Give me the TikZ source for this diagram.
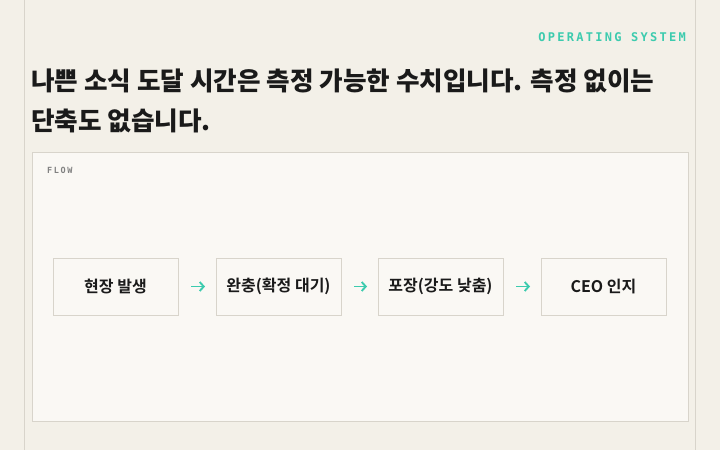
\documentclass[tikz,border=0pt]{standalone}
\usepackage{fontspec}
\usetikzlibrary{positioning,arrows.meta}
\newfontfamily\cjk{Noto Sans CJK KR}[BoldFont={Noto Sans CJK KR Bold}]
\newfontfamily\cjkheavy{Noto Sans CJK KR Black}
\newfontfamily\monofnt{DejaVu Sans Mono}[LetterSpace=19]
\definecolor{pagebg}{HTML}{F3F0E8}
\definecolor{panelbg}{HTML}{FAF8F4}
\definecolor{rulegray}{HTML}{D8D4CB}
\definecolor{tealc}{HTML}{3CCBAE}
\definecolor{inkc}{HTML}{1A1A1A}
\tikzset{
  stagebox/.style={draw=rulegray, line width=0.8pt, fill=panelbg, minimum width=125pt, minimum height=57pt, inner sep=0pt, outer sep=0pt, font=\cjk\bfseries\fontsize{16}{19}\selectfont, text=inkc},
  flowarrow/.style={draw=tealc, line width=1.9pt, -{Straight Barb[length=4pt,width=9pt]}, shorten <=13pt, shorten >=11pt}
}
\begin{document}
\begin{tikzpicture}[x=1pt, y=-1pt]
  % 背景
  \fill [pagebg] (0,0) rectangle (720,450);
  \useasboundingbox (0,0) rectangle (720,450);
  \draw [rulegray, line width=0.8pt] (24,0) -- (24,450);
  \draw [rulegray, line width=0.8pt] (695,0) -- (695,450);

  % 見出し
  \node [anchor=east, text=tealc, font=\monofnt\bfseries\fontsize{12}{14}\selectfont, inner sep=0pt] (kicker) at (686,37) {OPERATING SYSTEM};
  \node [anchor=north west, align=left, text=inkc, inner sep=0pt, font=\cjkheavy\fontsize{25.6}{40}\selectfont] (title) at (31,69) {나쁜 소식 도달 시간은 측정 가능한 수치입니다. 측정 없이는\\단축도 없습니다.};

  % パネル
  \draw [rulegray, line width=0.8pt, fill=panelbg] (32,152) rectangle (688,421);
  \node [anchor=west, text=gray, font=\monofnt\bfseries\fontsize{8.5}{10}\selectfont, inner sep=0pt] (flowlabel) at (47,170) {FLOW};

  % 流れ
  \node [stagebox] (s1) at (115.5,286.5) {현장 발생};
  \node [stagebox, right=38pt of s1] (s2) {완충(확정 대기)};
  \node [stagebox, right=37pt of s2] (s3) {포장(강도 낮춤)};
  \node [stagebox, right=38pt of s3] (s4) {CEO 인지};

  \draw [flowarrow] (s1) -- (s2);
  \draw [flowarrow] (s2) -- (s3);
  \draw [flowarrow] (s3) -- (s4);
\end{tikzpicture}
\end{document}
